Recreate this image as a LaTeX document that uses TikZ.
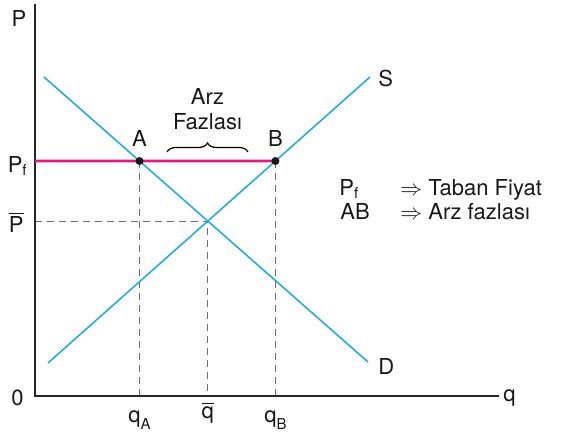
\documentclass[tikz,border=0pt]{standalone}
\usepackage{fontspec}
\setmainfont{TeX Gyre Heros}
\usetikzlibrary{
  positioning,
  calc,
  decorations.pathreplacing
}
\definecolor{marketcyan}{HTML}{1BA9E1}
\definecolor{floormag}{HTML}{E5197E}
\definecolor{guidegray}{HTML}{707070}
\newcommand{\lowsub}[2][0.3ex]{\raisebox{-#1}{\fontsize{7.5}{8}\selectfont #2}}

\begin{document}
\begin{tikzpicture}[
  x=0.5pt, y=-0.5pt,
  axis/.style={line width=0.9pt, black!85},
  market/.style={line width=0.75pt, marketcyan},
  floorline/.style={line width=1.4pt, floormag},
  guide/.style={line width=0.5pt, guidegray, dash pattern=on 3.5pt off 2.5pt},
  dot/.style={fill=black!90},
  lbl/.style={inner sep=0pt, font=\fontsize{11}{12.5}\selectfont, text=black!90},
  brace/.style={decorate, decoration={brace, amplitude=4.5pt}, line width=0.6pt}
]
  \useasboundingbox (0,0) rectangle (573,433);

  % axes
  \coordinate (O) at (35,396);
  \coordinate (Ptop) at (35,4);
  \coordinate (qend) at (499,396);

  % demand and supply
  \coordinate (D1) at (44,77);
  \coordinate (D2) at (368,362);
  \coordinate (S1) at (48,363);
  \coordinate (S2) at (370,77);
  \coordinate (E) at (intersection of D1--D2 and S1--S2);

  % floor price
  \coordinate (PfL) at (35,161);
  \coordinate (PfR) at (400,161);
  \coordinate (A) at (intersection of D1--D2 and PfL--PfR);
  \coordinate (B) at (intersection of S1--S2 and PfL--PfR);
  \coordinate (Pbar) at (O |- E);
  \coordinate (qA) at (A |- O);
  \coordinate (qB) at (B |- O);
  \coordinate (qbar) at (E |- O);

  \draw[guide] (A) -- (qA);
  \draw[guide] (B) -- (qB);
  \draw[guide] (Pbar) -- (E) -- (qbar);

  \draw[axis] (Ptop) -- (O) -- (qend);

  \draw[market] (D1) -- (D2);
  \draw[market] (S1) -- (S2);
  \draw[floorline] (PfL) -- (B);

  \fill[dot] (A) circle[radius=2pt];
  \fill[dot] (B) circle[radius=2pt];

  % labels
  \node[lbl, anchor=base] (Plbl) at (19,27) {P};
  \node[lbl, anchor=base east] (Pflbl) at (27,172) {P\lowsub{f}};
  \node[lbl, anchor=base east] (Pbarlbl) at (24,232) {$\overline{\mbox{P}}$};
  \node[lbl, anchor=base east] (Olbl) at (24,405) {0};
  \node[lbl, anchor=west] (qlbl) at (503,398) {q};
  \node[lbl, below=7pt of qA] (qAlbl) {q\lowsub[0.6ex]{A}};
  \node[lbl, below=3pt of qbar] (qbarlbl) {$\overline{\mbox{q}}$};
  \node[lbl, below=7pt of qB] (qBlbl) {q\lowsub[0.6ex]{B}};
  \node[lbl, above=7pt of A] (Albl) {A};
  \node[lbl, above=7pt of B] (Blbl) {B};
  \node[lbl, anchor=west] (Slbl) at (378,78) {S};
  \node[lbl, anchor=west] (Dlbl) at (378,366) {D};

  % surplus brace
  \coordinate (BrL) at (167,152);
  \coordinate (BrR) at (248,152);
  \draw[brace] (BrL) -- (BrR);
  \node[lbl, align=center, above=11pt of $(BrL)!0.5!(BrR)$] (surplus) {Arz\\Fazlası};

  % legend
  \node[lbl, anchor=base west] (leg1) at (339,195) {P\lowsub{f}};
  \node[lbl, anchor=base west] (leg1txt) at (400,195) {$\Rightarrow$ Taban Fiyat};
  \node[lbl, anchor=base west] (leg2) at (340,220) {AB};
  \node[lbl, anchor=base west] (leg2txt) at (400,220) {$\Rightarrow$ Arz fazlası};
\end{tikzpicture}
\end{document}
